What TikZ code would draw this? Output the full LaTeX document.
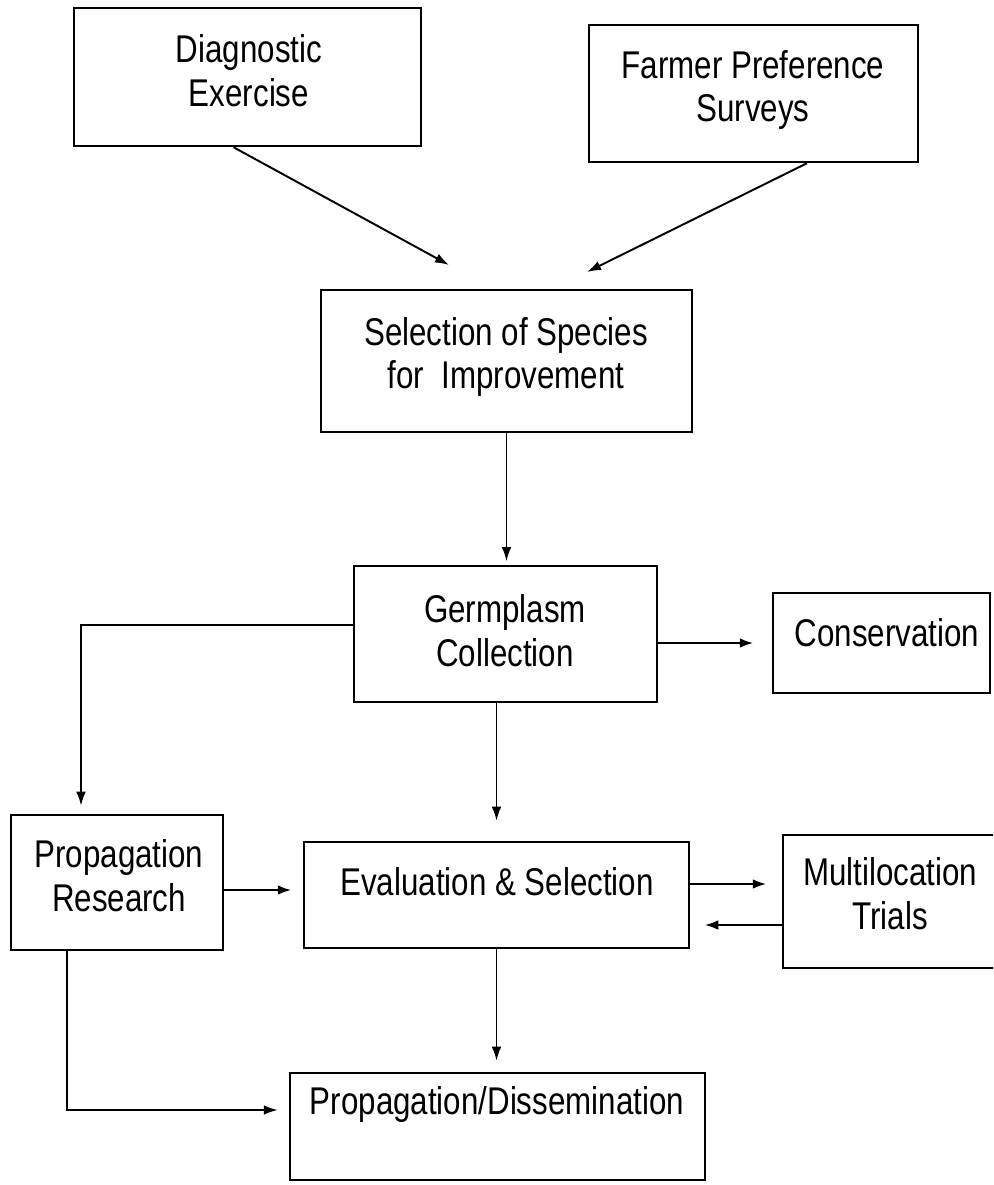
\documentclass[tikz,border=0pt]{standalone}
\usepackage{fontspec}
\setmainfont{Liberation Sans}[FakeStretch=0.81]
\usetikzlibrary{arrows.meta}

\begin{document}
\begin{tikzpicture}[x=0.02cm,y=-0.02cm,
  box/.style={draw,line width=1.4pt,inner sep=0pt},
  lbl/.style={align=center,inner sep=0pt,font=\fontsize{22}{25}\selectfont},
  arr/.style={line width=1.1pt,-{Latex[length=8pt,width=5.5pt]}},
  harr/.style={arr,line width=1.6pt}]
\clip (0,0) rectangle (993,1185);
% boxes
\node[box,minimum width=6.94cm,minimum height=2.76cm] (diag) at (247.5,77) {};
\node[box,minimum width=6.58cm,minimum height=2.74cm] (farm) at (753.5,93.5) {};
\node[box,minimum width=7.42cm,minimum height=2.84cm] (sel) at (506.5,361) {};
\node[box,minimum width=6.06cm,minimum height=2.72cm] (germ) at (505.5,634) {};
\node[box,minimum width=4.34cm,minimum height=2.00cm] (cons) at (881.5,643) {};
\node[box,minimum width=4.24cm,minimum height=2.70cm] (pres) at (117,882.5) {};
\node[box,minimum width=7.70cm,minimum height=2.12cm] (eval) at (496.5,895) {};
\node[box,minimum width=4.44cm,minimum height=2.66cm] (multi) at (894,901.5) {};
\node[box,minimum width=8.30cm,minimum height=2.14cm] (diss) at (497.5,1126.5) {};
% texts
\node[lbl] (diag-t) at (249,71) {Diagnostic\\Exercise};
\node[lbl] (farm-t) at (753,90) {Farmer Preference\\Surveys};
\node[lbl] (sel-t) at (506,357) {Selection of Species\\for\ \ Improvement};
\node[lbl] (germ-t) at (505,631) {Germplasm\\Collection};
\node[lbl] (cons-t) at (887,633) {Conservation};
\node[lbl] (pres-t) at (119,876) {Propagation\\Research};
\node[lbl] (eval-t) at (497,882) {Evaluation \& Selection};
\node[lbl] (multi-t) at (890,894) {Multilocation\\Trials};
\node[lbl] (diss-t) at (497,1104) {Propagation/Dissemination};
% connectors
\coordinate (dtip) at (449,265); \coordinate (ftip) at (587,272);
\draw[arr] ([xshift=-0.28cm]diag.south) -- (dtip);
\draw[arr] ([xshift=1.07cm]farm.south) -- (ftip);
\draw[arr,shorten >=2pt] (sel.south) -- (sel.south |- germ.north);
\draw[arr,shorten >=0.4cm] (germ.south -| eval.north) -- (eval.north);
\draw[arr,shorten >=0.16cm] ([yshift=0.18cm]germ.west) -| ([xshift=-0.72cm]pres.north);
\draw[harr,shorten >=0.36cm] (germ.east |- cons.west) -- (cons.west);
\draw[harr,shorten >=0.22cm] ([yshift=-0.15cm]pres.east) -- ([yshift=-0.15cm]pres.east -| eval.west);
\draw[harr,shorten >=0.3cm] ([yshift=0.22cm]eval.east) -- ([yshift=0.22cm]eval.east -| multi.west);
\draw[harr,shorten >=0.28cm] ([yshift=-0.47cm]multi.west) -- ([yshift=-0.47cm]multi.west -| eval.east);
\draw[arr,shorten >=0.22cm] (eval.south) -- (eval.south |- diss.north);
\draw[arr,shorten >=0.22cm] ([xshift=-1cm]pres.south) |- ([yshift=0.33cm]diss.west);
\end{tikzpicture}
\end{document}
